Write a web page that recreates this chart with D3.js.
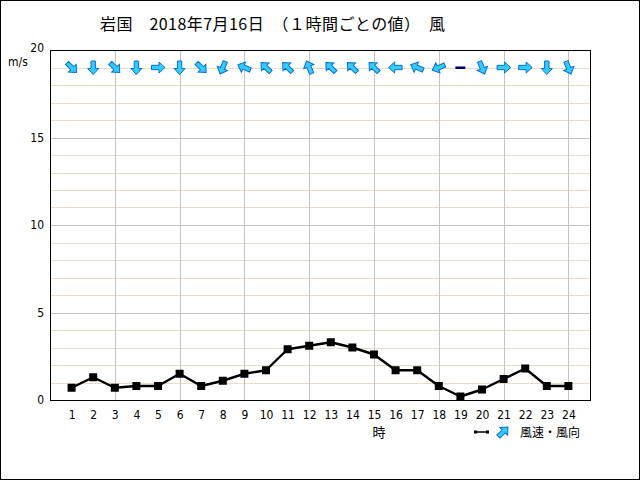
<!DOCTYPE html>
<html>
<head>
<meta charset="utf-8">
<script src="https://cdn.jsdelivr.net/npm/d3@7"></script>
<style>
  html, body { margin:0; padding:0; background:#fff; }
  svg { display:block; font-family:"Noto Sans CJK JP","DejaVu Sans",sans-serif; }
</style>
</head>
<body>
<script>
// hourly values, 岩国 2018-07-16
const hours = d3.range(1, 25)
const speed = [0.7,1.3,0.7,0.8,0.8,1.5,0.8,1.1,1.5,1.7,2.9,3.1,
               3.3,3.0,2.6,1.7,1.7,0.8,0.2,0.6,1.2,1.8,0.8,0.8]
// wind direction (where the wind comes from), 16 points
const direction = ["北西","北","北西","北","西","北","北西","北北東","東南東","南東","南東","南南東",
                   "南東","南東","南東","東","東南東","東北東","静穏","北北西","西","西","北","北北西"]
const compass = ["北","北北東","北東","東北東","東","東南東","南東","南南東",
                 "南","南南西","南西","西南西","西","西北西","北西","北北西"]
const yTicks = [0,5,10,15,20]
const title = "岩国　2018年7月16日　（１時間ごとの値）　風"

function viz(){
  const width = 640, height = 480
  const plot = {left:50, right:590, top:50, bottom:400}

  const svg = d3.select("body").append("svg")
      .attr("width", width).attr("height", height)

  // outer frame
  svg.append("rect").attr("x",0.5).attr("y",0.5)
     .attr("width",width-1).attr("height",height-1)
     .attr("fill","#fff").attr("stroke","#000")

  const x = d3.scaleLinear().domain([0,25]).range([plot.left, plot.right])
  const y = d3.scaleLinear().domain([0,20]).range([plot.bottom, plot.top])

  //grid: beige every 1 m/s, grey every 5, grey verticals every 3 hours
  const grid = svg.append("g").attr("shape-rendering","crispEdges")
  grid.selectAll("line.minor").data(d3.range(1,20).filter(v=>v%5))
      .join("line").attr("class","minor")
      .attr("x1",plot.left).attr("x2",plot.right)
      .attr("y1",d=>Math.round(y(d))+0.5).attr("y2",d=>Math.round(y(d))+0.5)
      .attr("stroke","#e6dec6")
  grid.selectAll("line.major").data([5,10,15])
      .join("line").attr("class","major")
      .attr("x1",plot.left).attr("x2",plot.right)
      .attr("y1",d=>Math.round(y(d))+0.5).attr("y2",d=>Math.round(y(d))+0.5)
      .attr("stroke","#c4c4c4")
  grid.selectAll("line.vert").data(hours.filter(h=>h%3==0))
      .join("line").attr("class","vert")
      .attr("x1",d=>Math.round(x(d))+0.5).attr("x2",d=>Math.round(x(d))+0.5)
      .attr("y1",plot.top).attr("y2",plot.bottom)
      .attr("stroke","#c4c4c4")
  grid.append("rect").attr("x",plot.left+0.5).attr("y",plot.top+0.5)
      .attr("width",plot.right-plot.left).attr("height",plot.bottom-plot.top)
      .attr("fill","none").attr("stroke","#000")

  // axes (labels only)
  const yAxis = svg.append("g").attr("transform",`translate(${plot.left-6},0)`)
      .call(d3.axisLeft(y).tickValues(yTicks).tickSize(0).tickPadding(0))
  const xAxis = svg.append("g").attr("transform",`translate(0,${plot.bottom+10})`)
      .call(d3.axisBottom(x).tickValues(hours).tickSize(0).tickPadding(0))
  svg.selectAll(".domain").remove()
  svg.selectAll(".tick text").attr("font-family","'DejaVu Sans Condensed','DejaVu Sans',sans-serif")
     .attr("font-size",12).attr("fill","#000")
  yAxis.selectAll(".tick text").filter(d=>d==20).attr("dy","0.1em")

  svg.append("text").attr("x",8).attr("y",66).attr("font-size",12)
     .attr("font-family","'DejaVu Sans Condensed','DejaVu Sans',sans-serif").text("m/s")
  svg.append("text").attr("x",379).attr("y",437).attr("font-size",13)
     .attr("text-anchor","middle").text("時")

  // title
  svg.append("text").attr("x",100).attr("y",30).attr("font-size",16)
     .attr("textLength",345).attr("lengthAdjust","spacing").text(title)

  // speed line
  const line = d3.line().x((d,i)=>x(hours[i])).y(d=>y(d))
  svg.append("path").datum(speed).attr("d",line)
     .attr("fill","none").attr("stroke","#000").attr("stroke-width",2.4)
     .attr("stroke-linejoin","round")
  svg.append("g").selectAll("rect").data(speed).join("rect")
     .attr("x",(d,i)=>x(hours[i])-4).attr("y",d=>y(d)-4)
     .attr("width",8).attr("height",8).attr("fill","#000")

  // direction arrows, pointing where the wind blows to
  const arrowPath = "M0,-7 L5.5,-1 L2.2,-1 L2.2,6.5 L-2.2,6.5 L-2.2,-1 L-5.5,-1 Z"
  const arrows = svg.append("g")
  direction.forEach((dir,i)=>{
    const cx = x(hours[i]), cy = y(19)
    if(dir==="静穏"){
      arrows.append("rect").attr("x",cx-5).attr("y",cy-1)
            .attr("width",10).attr("height",2.5).attr("fill","#000066")
      return
    }
    const angle = compass.indexOf(dir)*22.5 + 180
    arrows.append("path").attr("d",arrowPath)
          .attr("transform",`translate(${cx},${cy}) rotate(${angle})`)
          .attr("fill","#33ccff").attr("stroke","#0b6fcf").attr("stroke-width",1)
  })

  // legend
  const lg = svg.append("g")
  lg.append("line").attr("x1",476).attr("x2",487).attr("y1",432).attr("y2",432)
    .attr("stroke","#000").attr("stroke-width",1.5)
  lg.append("rect").attr("x",474).attr("y",430.5).attr("width",3).attr("height",3).attr("fill","#000")
  lg.append("rect").attr("x",486).attr("y",430.5).attr("width",3).attr("height",3).attr("fill","#000")
  lg.append("path").attr("d",arrowPath)
    .attr("transform","translate(503,432) rotate(45)")
    .attr("fill","#33ccff").attr("stroke","#0b6fcf")
  lg.append("text").attr("x",520).attr("y",437).attr("font-size",12).text("風速・風向")
}
viz()
</script>
</body>
</html>
